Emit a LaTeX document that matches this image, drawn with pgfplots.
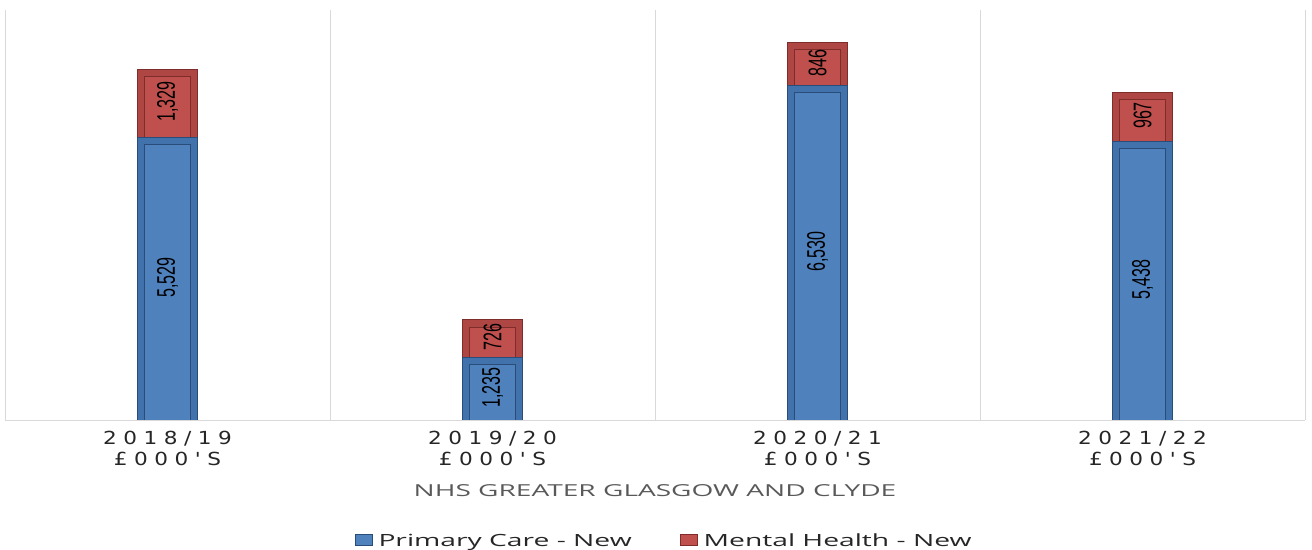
\documentclass[border=0pt]{standalone}
\usepackage{fontspec}
\usepackage{pgfplots}
\pgfplotsset{compat=1.18}
\usepackage{pgfplotstable}

\setmainfont{DejaVu Sans}
\newfontfamily\tickfont[LetterSpace=36,FakeStretch=1.2]{DejaVu Sans}
\newfontfamily\titlefont[FakeStretch=1.7]{Open Sans}
\newfontfamily\legfont[FakeStretch=1.68]{Open Sans}
\newfontfamily\valfont[FakeStretch=0.63]{Liberation Sans}

\definecolor{pcblue}{HTML}{4F81BD}
\definecolor{pcedge}{HTML}{4272AC}
\definecolor{pcdark}{HTML}{2A4C78}
\definecolor{mhred}{HTML}{C0504D}
\definecolor{mhedge}{HTML}{AE4744}
\definecolor{mhdark}{HTML}{7E2D2B}
\definecolor{gridgray}{HTML}{D9D9D9}
\definecolor{titlegray}{HTML}{595959}
\definecolor{textdark}{HTML}{262626}

% bevelled bar: face, edge band and outline; the band is 8bp wide in all,
% so bars are shifted down 4bp to keep their tops on the data value
\tikzset{
  bevel/.style n args={3}{fill=#1, draw=#3, line width=1bp, double=#2,
    double distance=6bp, yshift=-4bp},
}

% new funding, £000's
\pgfplotstableread{
x pc mh
0 5529 1329
1 1235 726
2 6530 846
3 5438 967
}\fundtable

\begin{document}
\begin{tikzpicture}
\begin{axis}[
  scale only axis, width=1300bp, height=410bp,
  ybar stacked, bar width=53bp,
  xmin=-0.5, xmax=3.5, ymin=0, ymax=8000,
  axis y line=none, axis x line=bottom,
  axis line style={-, draw=gridgray, line width=1bp},
  xtick={0,1,2,3},
  xticklabels={{2018/19\\£000'S},{2019/20\\£000'S},{2020/21\\£000'S},{2021/22\\£000'S}},
  major tick length=0pt, minor tick length=0pt,
  minor xtick={-0.5,0.5,1.5,2.5,3.5}, xminorgrids,
  minor grid style={draw=gridgray, line width=1bp},
  xticklabel style={font=\tickfont\fontsize{18bp}{21bp}\selectfont, align=center, text=textdark, yshift=-8bp},
  xlabel={NHS GREATER GLASGOW AND CLYDE},
  xlabel style={at={(axis description cs:0.5,-0.173)}, anchor=center,
    font=\titlefont\fontsize{16.5bp}{18bp}\selectfont, text=titlegray},
  legend style={at={(0.5,-0.295)}, anchor=center, xshift=9bp,
    draw=none, legend columns=2,
    font=\legfont\fontsize{16.8bp}{19bp}\selectfont, text=textdark,
    /tikz/every odd column/.append style={column sep=4bp},
    /tikz/every even column/.append style={column sep=46bp}},
  clip=true,
]
% primary care: stacking base here, drawn in the overlay axis below
\addplot[draw=none, fill=none, forget plot] table[x=x, y=pc]{\fundtable};
\addplot[bevel={mhred}{mhedge}{mhdark}, forget plot] table[x=x, y=mh]{\fundtable};

\addlegendimage{legend image code/.code={\draw[fill=pcblue, draw=pcdark, line width=1bp] (0bp,-5bp) rectangle (17bp,6bp);}}
\addlegendentry{Primary Care - New}
\addlegendimage{legend image code/.code={\draw[fill=mhred, draw=mhdark, line width=1bp] (0bp,-5bp) rectangle (17bp,6bp);}}
\addlegendentry{Mental Health - New}
\coordinate (ll) at (rel axis cs:0,0);
\coordinate (ur) at (rel axis cs:1,1);
\end{axis}

% primary care bars, drawn over the foot of the mental health bars
\begin{axis}[
  scale only axis, width=1300bp, height=410bp,
  ybar, bar width=53bp, bar shift=0pt,
  xmin=-0.5, xmax=3.5, ymin=0, ymax=8000,
  hide axis, clip=true,
]
\addplot[bevel={pcblue}{pcedge}{pcdark}] table[x=x, y=pc]{\fundtable};
\end{axis}

% value labels centred in each segment
\begin{axis}[
  scale only axis, width=1300bp, height=410bp,
  xmin=-0.5, xmax=3.5, ymin=0, ymax=8000,
  hide axis, clip=false,
  nodes near coords={\valfont\fontsize{25.5bp}{25bp}\selectfont\pgfmathprintnumber[assume math mode=true]{\pgfplotspointmeta}},
  every node near coord/.append style={rotate=90, anchor=center, text=black, inner sep=0pt, xshift=1bp},
]
\addplot[draw=none, mark=none, point meta=\thisrow{pc}]
  table[x=x, y expr=\thisrow{pc}/2]{\fundtable};
\addplot[draw=none, mark=none, point meta=\thisrow{mh}]
  table[x=x, y expr=\thisrow{pc}+\thisrow{mh}/2]{\fundtable};
\end{axis}

\pgfresetboundingbox
\path[use as bounding box] ([shift={(-5bp,-130bp)}]ll) rectangle ([shift={(7bp,10bp)}]ur);
\end{tikzpicture}
\end{document}
